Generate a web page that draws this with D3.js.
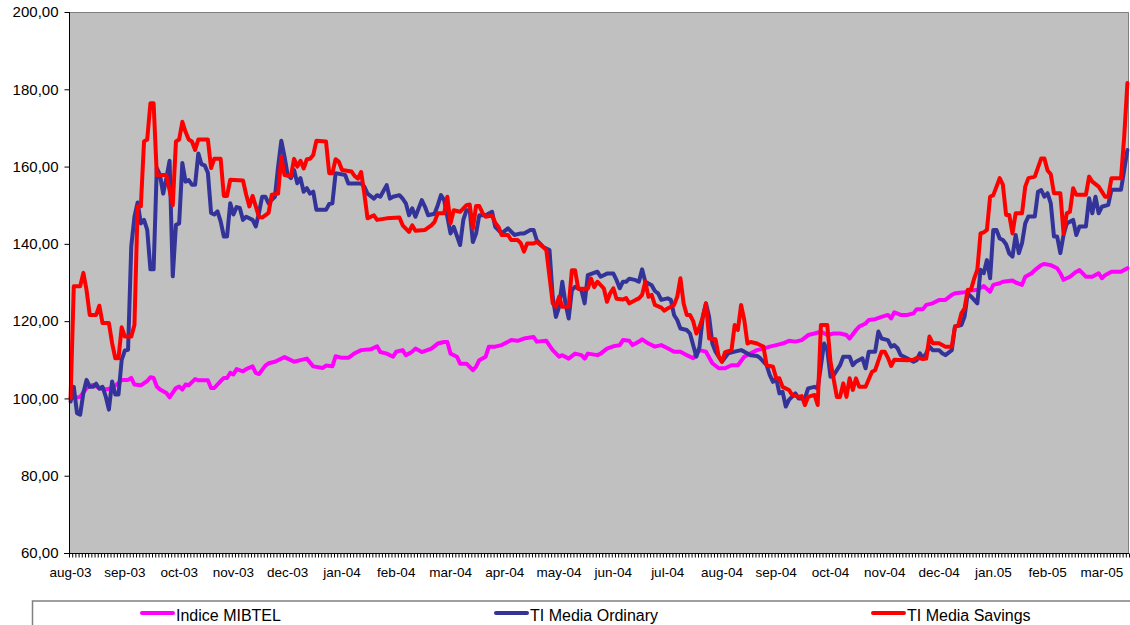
<!DOCTYPE html>
<html><head><meta charset="utf-8">
<script src="https://cdn.jsdelivr.net/npm/d3@7"></script>
<style>
body{margin:0;background:#fff}
svg{display:block;font-family:"Liberation Sans",Arial,sans-serif}
</style>
</head><body>
<svg id="chart" width="1130" height="625"></svg>
<script>
// ---- data (category index = trading-day position on the axis, value) ----
const monthLabels = ["aug-03","sep-03","oct-03","nov-03","dec-03","jan-04","feb-04","mar-04","apr-04","may-04","jun-04","jul-04","aug-04","sep-04","oct-04","nov-04","dec-04","jan.05","feb-05","mar-05"];
const labelEvery = 17;
const categoryCount = 332;
const yTicks = [60,80,100,120,140,160,180,200];
const seriesNames = ["Indice MIBTEL","TI Media Ordinary","TI Media Savings"];

const mibtel = [[0,100],[3,100.4],[5,102.7],[7,103.5],[9,102.7],[11,102.3],[13,102.7],[15,104],[16,104.8],[18,104.8],[19,105.3],[20,103.6],[22,103.4],[24,104.5],[25,105.5],[26,105.3],[27,103.1],[28,102.3],[30,101.4],[31,100.3],[33,102.7],[34,103.1],[35,102.3],[36,103.6],[37,103.4],[39,105],[40,104.7],[43,104.7],[44,102.7],[45,102.7],[47,104.5],[48,105.3],[49,105.3],[50,106.6],[51,106.2],[52,107.6],[54,107],[55,107.6],[57,108.3],[58,106.6],[59,106.3],[61,108.5],[62,109.1],[64,109.5],[67,110.7],[69,109.9],[70,109.5],[72,109.9],[74,110.3],[76,108.3],[79,107.9],[80,108.5],[82,108.3],[83,110.9],[85,110.5],[87,110.5],[89,111.7],[91,112.5],[94,112.7],[96,113.5],[97,112],[99,111.6],[101,110.8],[102,112.1],[104,112.5],[105,111.2],[107,112.1],[108,112.9],[110,112],[113,112.9],[115,114.2],[117,114.6],[118,114.6],[119,111.6],[121,110.8],[122,109],[124,109],[126,107.3],[127,108.2],[128,109.9],[130,110.8],[131,113.4],[133,113.4],[135,113.8],[138,115.1],[140,114.9],[142,115.5],[145,115.9],[146,114.7],[149,114.9],[151,112.5],[153,110.8],[154,111.2],[156,110.3],[158,111.6],[160,111.2],[161,110.3],[162,111.6],[165,111.2],[166,111.6],[168,112.9],[170,113.5],[172,113.8],[173,115.1],[175,114.9],[176,113.8],[178,114.7],[179,115.3],[181,114.2],[183,113.4],[185,113.8],[187,113],[189,112.1],[191,112.1],[193,111.2],[195,110.4],[197,112.5],[199,112.1],[201,109.1],[203,107.8],[205,107.8],[207,108.6],[209,108.6],[211,110.8],[213,111.7],[215,112.5],[217,112.9],[219,113.4],[221,113.8],[223,114.2],[225,114.9],[227,114.7],[229,115.1],[231,116.4],[233,116.8],[235,117.3],[237,116.4],[239,116.8],[241,116.8],[243,116.4],[244,115.5],[246,117.7],[247,118.6],[249,119.4],[250,120.3],[252,120.5],[254,121.1],[256,121.6],[257,120.7],[258,122.3],[260,121.6],[262,121.6],[264,122],[265,123.1],[267,123.1],[268,124.2],[270,124.6],[272,125.5],[274,125.5],[276,126.8],[277,127.2],[280,127.5],[282,127.9],[284,128.1],[286,129.1],[288,127.6],[289,129.4],[291,129.8],[292,130.2],[295,130.5],[296,130],[298,129.4],[299,131.5],[301,132.4],[302,133.2],[304,134.5],[305,134.8],[307,134.5],[309,133.7],[310,132.4],[311,130.7],[313,131.5],[315,132.8],[316,133.2],[318,131.5],[320,131.5],[322,132.4],[323,131.1],[324,131.9],[326,132.8],[329,132.8],[331,133.7]];

const ordinary = [[0,99.2],[1,103],[2,96.2],[3,95.8],[4,101.4],[5,104.8],[6,103],[7,103],[8,103.8],[9,102.5],[10,103],[11,100.5],[12,97.1],[13,104.4],[14,101],[15,101],[16,110],[17,112.4],[18,112.6],[19,139.3],[20,147],[21,150.7],[22,145.3],[23,146.2],[24,143.6],[25,133.4],[26,133.4],[27,159.6],[28,157.8],[29,153],[30,157],[31,161.5],[32,131.6],[33,144.9],[34,145.3],[35,160.9],[36,156.1],[37,156.5],[38,155.3],[39,155.3],[40,163.4],[41,160.6],[42,160.3],[43,158.4],[44,148],[45,147.6],[46,148.4],[47,145.8],[48,141.9],[49,141.9],[50,150.5],[51,147.6],[52,149.5],[53,149.3],[54,146.2],[55,147],[57,146.2],[58,144.5],[59,148],[60,152.2],[61,152.2],[62,150.5],[63,151.4],[64,152.2],[65,160],[66,166.7],[67,162.6],[68,157.8],[69,157],[70,159.1],[71,155.7],[72,157],[73,153.5],[74,154.4],[75,153],[76,153.5],[77,148.8],[80,148.8],[81,150.3],[82,150.5],[83,158.3],[86,157.8],[87,155.6],[91,155.6],[92,154.8],[93,153],[95,151.7],[96,152.6],[97,152.2],[99,155.2],[100,151.7],[101,152.2],[103,152.6],[104,151.7],[105,150.5],[106,147.4],[107,149.2],[108,147],[110,151.3],[111,149.6],[112,147.4],[114,147.8],[115,150],[116,152.6],[117,151.3],[119,142.7],[120,144.4],[122,139.7],[123,146.2],[124,148.7],[125,148.7],[126,140.5],[127,142.7],[128,147.4],[130,147.4],[132,148.3],[133,144.4],[135,142.7],[137,144],[139,142.3],[141,142.7],[142,142.7],[144,143.6],[145,143.6],[146,141],[148,139.2],[150,138.4],[151,126.3],[152,121.1],[153,123.7],[154,130.2],[155,124.6],[156,120.7],[157,128],[158,128.9],[160,128],[161,124.6],[162,131.9],[165,132.8],[166,131.5],[168,132.3],[170,132.3],[171,130.6],[172,128.5],[173,130.2],[174,130.2],[175,131],[177,130.6],[178,130.2],[179,133.4],[180,130.2],[182,129.3],[183,127.8],[184,127.2],[185,125.5],[187,125.9],[188,125.5],[189,121.6],[190,120.3],[191,118.1],[193,117.7],[194,116.8],[196,110.8],[197,113.4],[198,121.1],[199,124.6],[200,121.1],[201,114.2],[202,112.1],[204,109.5],[206,111.7],[208,112.1],[210,112.5],[211,112.1],[213,111.2],[215,111],[216,110.4],[218,108.6],[219,106],[220,104.3],[221,105.2],[222,101.3],[223,101.7],[224,97.9],[225,99.6],[227,101.3],[228,100],[230,100],[231,102.6],[233,103],[234,102.6],[236,114.2],[237,112.5],[238,105.6],[239,106],[241,108.6],[242,110.8],[244,110.8],[245,108.6],[246,109.5],[248,110.4],[249,107.8],[250,112.1],[252,112.1],[253,117.3],[254,115.5],[256,115.1],[257,113.4],[258,113.8],[259,113],[260,111.2],[262,110.4],[264,109.5],[265,109.9],[266,111.7],[267,110.4],[268,111.7],[269,113.4],[270,112.5],[272,112.5],[273,111.7],[274,111.2],[276,112.5],[277,118.6],[279,119],[280,121.2],[281,127.2],[282,126.4],[284,124.6],[285,133.3],[286,132.4],[287,135.8],[288,131.1],[289,143.6],[290,143.6],[291,141.4],[292,141],[293,139.9],[294,137.5],[295,136.7],[296,142.3],[297,137.6],[298,140.2],[299,145.3],[300,147.1],[302,147.1],[303,153.5],[304,153.9],[305,152.2],[306,153.1],[307,150.5],[308,141.9],[309,141.9],[310,137.6],[311,142.3],[312,145.3],[314,146.2],[315,142.3],[316,144.5],[318,144.5],[319,151.8],[320,147.9],[321,152.2],[322,147.9],[323,149.6],[325,150.1],[326,154],[329,154],[330,159.1],[331,164.3]];

const savings = [[0,100],[1,129],[3,129],[4,132.5],[5,128],[6,121.6],[8,121.6],[9,124],[10,119.5],[12,119.5],[13,114.3],[14,110.4],[15,110.4],[16,118.4],[17,116],[19,116],[20,119],[21,149.7],[22,149.7],[23,166.5],[24,167],[25,176.4],[26,176.4],[27,157.8],[30,157.8],[32,150],[33,166.5],[34,167],[35,171.6],[36,169],[37,167],[38,166.5],[39,164.3],[40,167],[43,167],[44,159.6],[45,162],[47,162],[48,152.4],[49,152.4],[50,156.6],[54,156.4],[55,152.7],[56,149.7],[57,152.4],[58,149.7],[59,147],[60,146.8],[62,148],[63,152.7],[65,153],[66,162.6],[67,157.8],[69,157.5],[70,162],[71,160],[72,161.5],[73,159.5],[74,161.9],[75,162],[76,163],[77,166.7],[80,166.5],[81,158.3],[82,158.3],[83,161.9],[84,161.3],[85,159.1],[88,158.7],[89,157.5],[90,156.9],[91,158.6],[92,153],[93,146.6],[95,147.4],[96,146.2],[99,146.6],[103,146.8],[104,144.8],[106,143.1],[107,144.8],[108,143.4],[111,143.6],[113,144.8],[114,145.7],[115,147.9],[117,147.9],[118,152.2],[119,145.3],[120,148.7],[122,148.3],[124,150],[125,150.2],[126,144],[127,149.8],[128,149.8],[129,148],[130,147],[132,147.3],[133,145.5],[134,144.4],[135,142.3],[137,142.3],[138,141],[140,141],[141,140.2],[142,138],[143,140.1],[145,140.1],[146,140.5],[148,139.2],[149,138.4],[151,124.6],[152,123.7],[153,126.3],[154,123.7],[156,123.7],[157,133.2],[158,133.2],[159,128.4],[162,128.4],[163,131],[164,128.8],[165,130.2],[167,128.5],[168,125],[169,127.2],[170,128.5],[171,125.8],[173,125.6],[174,126],[175,124.6],[177,125.5],[178,125.9],[179,126.8],[180,130.2],[181,126.3],[182,126.8],[183,124.2],[185,123.5],[186,122.7],[187,123.3],[189,124.2],[190,126.3],[191,131.1],[192,124.6],[193,121.6],[194,121.6],[195,120],[196,116.8],[197,118.5],[198,121],[199,124.6],[200,115.5],[202,115.3],[203,110.8],[204,109.5],[205,112],[207,112.5],[208,119],[209,117.7],[210,124.2],[211,120.3],[212,114.2],[213,114.6],[215,114.2],[217,113.4],[218,108.6],[220,108.2],[221,105.2],[222,105.2],[223,103],[225,102.2],[226,100.9],[228,100.4],[229,100.6],[230,98.3],[231,100.4],[233,100.9],[234,98.3],[235,119],[237,119],[238,109.5],[240,100.4],[241,100.4],[242,103.9],[243,100.4],[244,105.2],[245,102.2],[246,105.2],[247,103],[249,103],[251,106.9],[252,107.3],[254,112.1],[255,112.1],[256,110.5],[257,108.4],[258,110],[262,109.9],[264,110],[265,110.5],[267,110.2],[268,110.3],[269,116],[270,114.3],[272,114.3],[274,113.4],[276,113.4],[277,118.6],[278,118.8],[279,122],[280,123.3],[281,128.1],[282,128.1],[283,131],[284,133.3],[285,142.7],[286,143],[287,143.6],[288,152.2],[289,152.6],[291,157],[292,155.3],[293,147.5],[294,147.5],[295,142.7],[296,147.9],[298,147.9],[299,154.8],[300,157],[302,157.4],[304,162.1],[305,162.1],[306,159],[307,158],[308,153.1],[310,153.1],[311,142.7],[312,147.9],[313,148.3],[314,154.4],[315,152.7],[318,152.7],[319,157.4],[320,156.1],[322,154.8],[323,153.5],[324,152.2],[325,152.2],[326,157],[329,157],[330,167.8],[331,181.6]];

// ---- drawing ----
const colors = ["#FF00FF","#333399","#FF0000"];
const svg = d3.select("#chart");
const plot = {left:69, top:12, right:1129, bottom:553};

const x = d3.scaleLinear().domain([0, categoryCount]).range([plot.left, plot.right]);
const y = d3.scaleLinear().domain([60, 200]).range([plot.bottom, plot.top]);

const itLocale = d3.formatLocale({decimal:",", thousands:".", grouping:[3], currency:["","€"]});
const fmt = itLocale.format(".2f");

// plot background
svg.append("rect").attr("x",plot.left).attr("y",plot.top)
  .attr("width",plot.right-plot.left).attr("height",plot.bottom-plot.top)
  .attr("fill","#C0C0C0");
// gray border top/right
svg.append("path")
  .attr("d",`M${plot.left},${plot.top+0.5}H${plot.right-0.5}V${plot.bottom}`)
  .attr("fill","none").attr("stroke","#808080").attr("stroke-width",1);

// lines
const line = d3.line().x(d => x(d[0] + 0.5)).y(d => y(d[1]));
[mibtel, ordinary, savings].forEach((s, i) => {
  svg.append("path").datum(s).attr("d", line)
    .attr("fill","none").attr("stroke",colors[i]).attr("stroke-width",4)
    .attr("stroke-linejoin","round").attr("stroke-linecap","round");
});

// y axis
const yAxis = d3.axisLeft(y).tickValues(yTicks).tickSize(5).tickPadding(6).tickFormat(fmt);
const gy = svg.append("g").attr("transform",`translate(${plot.left+0.5},0)`).call(yAxis);
gy.select(".domain").attr("stroke","#000").attr("d",`M-0,${plot.top}V${plot.bottom}`);
gy.selectAll(".tick line").attr("stroke","#000");
gy.selectAll(".tick text").attr("font-size","15px").attr("fill","#000")
  .attr("font-family",'"Liberation Sans",Arial,sans-serif');

// x axis: ticks at every category boundary, labels every 17 categories
const xAxis = d3.axisBottom(x).tickValues(d3.range(0, categoryCount + 1)).tickSize(4).tickFormat("");
const gx = svg.append("g").attr("transform",`translate(0,${plot.bottom+0.5})`).call(xAxis);
gx.select(".domain").attr("stroke","#000").attr("d",`M${plot.left-5},0H${plot.right}`);
gx.selectAll(".tick line").attr("stroke","#000");

svg.append("g").selectAll("text").data(monthLabels).join("text")
  .attr("x",(d,i) => x(i*labelEvery + 0.5))
  .attr("y",577)
  .attr("text-anchor","middle")
  .attr("font-size","13.5px").attr("fill","#000")
  .text(d => d);

// legend
svg.append("rect").attr("x",32.5).attr("y",601).attr("width",1110).attr("height",40)
  .attr("fill","#fff").attr("stroke","#808080").attr("stroke-width",1.5);
const legendX = [142, 496, 873];
const lg = svg.append("g").selectAll("g").data(seriesNames).join("g")
  .attr("transform",(d,i)=>`translate(${legendX[i]},613)`);
lg.append("line").attr("x1",0).attr("x2",31).attr("y1",0).attr("y2",0)
  .attr("stroke",(d,i)=>colors[i]).attr("stroke-width",4).attr("stroke-linecap","round");
lg.append("text").attr("x",34).attr("y",8).attr("font-size","16px").attr("fill","#000").text(d=>d);
</script>
</body></html>
